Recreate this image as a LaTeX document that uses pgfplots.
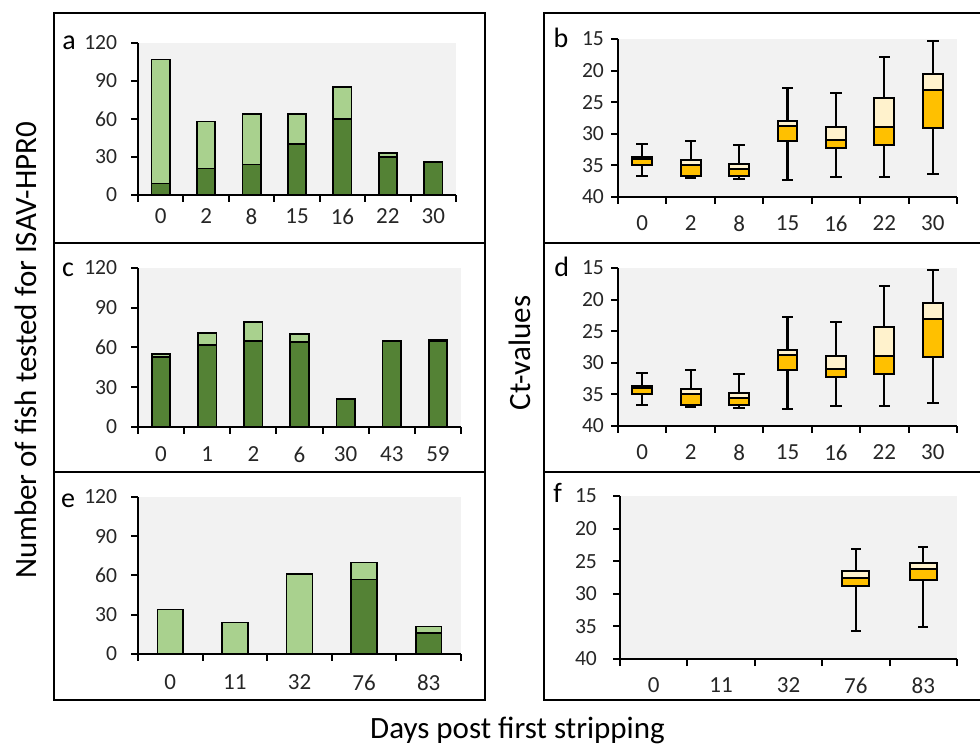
\documentclass[border=0pt]{standalone}
\usepackage{fontspec}
\setmainfont{Carlito}
\usepackage{pgfplots}
\usepackage{pgfplotstable}
\pgfplotsset{compat=1.18}

\definecolor{dkgreen}{HTML}{548235}
\definecolor{ltgreen}{HTML}{A9D18E}
\definecolor{cream}{HTML}{FFF2CC}
\definecolor{gold}{HTML}{FFC000}
\definecolor{bggray}{HTML}{F2F2F2}

% stacked bars: pos = dark part, neg = light part on top
\pgfplotstableread{
x pos neg
0 9 98
1 21 37
2 24 40
3 40 24
4 60 25
5 30 3
6 26 0
}\dataA
\pgfplotstableread{
x pos neg
0 53 2
1 62 9
2 65 14
3 64 6
4 21 0
5 65 0
6 65 1
}\dataC
\pgfplotstableread{
x pos neg
0 0 34
1 0 24
2 0 61
3 57 13
4 16 5
}\dataE

% box plots (Ct-values): whisker, quartile, median, quartile, whisker
\pgfplotstableread{
pos lw q1 md q3 uw
0 31.6 33.6 34.0 34.9 36.6
1 31.2 34.2 35.0 36.6 37.0
2 31.8 34.8 35.6 36.6 37.2
3 22.7 27.9 28.8 31.2 37.3
4 23.6 28.9 31.0 32.3 36.8
5 17.8 24.4 28.9 31.8 36.8
6 15.3 20.5 23.0 29.1 36.4
}\boxB
\pgfplotstableread{
pos lw q1 md q3 uw
3 23.1 26.5 27.6 28.8 35.7
4 22.8 25.2 26.2 27.9 35.1
}\boxF

% box plot built as a stack of bars: cream q1..median, gold median..q3
% (caps are bars of negligible height)
\newcommand{\boxes}[2]{% table, whisker cap width
  \addplot[draw=none, fill=none] table[x=pos, y=lw] {#1};
  \addplot[bar width=#2, fill=none] table[x=pos, y expr=0.001] {#1};
  \addplot[bar width=0.001, fill=none] table[x=pos, y expr=\thisrow{q1}-\thisrow{lw}] {#1};
  \addplot[fill=cream] table[x=pos, y expr=\thisrow{md}-\thisrow{q1}] {#1};
  \addplot[fill=gold] table[x=pos, y expr=\thisrow{q3}-\thisrow{md}] {#1};
  \addplot[bar width=0.001, fill=none] table[x=pos, y expr=\thisrow{uw}-\thisrow{q3}] {#1};
  \addplot[bar width=#2, fill=none] table[x=pos, y expr=0.001] {#1};
}

\pgfplotsset{
  panel/.style={
    scale only axis,
    enlargelimits=false,
    axis x line*=bottom,
    axis y line*=left,
    axis line style={-, line width=1pt},
    tick align=outside,
    tick style={black, line width=1pt},
    major tick length=3.5pt,
    x tick label as interval,
    axis background/.style={fill=bggray},
    /pgf/number format/assume math mode=true,
    yticklabel style={font=\fontsize{10.8}{12}\selectfont, text=black!85},
    xticklabel style={font=\fontsize{11.5}{13}\selectfont, text=black!85},
    anchor=south west,
  },
  barpanel/.style={
    panel,
    ybar stacked,
    bar width=0.4,
    ymin=0, ymax=120,
    ytick={0,30,...,120},
    yticklabel style={xshift=-3.4pt},
    every axis plot/.append style={draw=black, line width=0.85pt},
  },
  boxpanel/.style={
    panel,
    ybar stacked,
    bar width=0.41,
    y dir=reverse,
    ymin=15, ymax=40,
    ytick={15,20,...,40},
    xticklabel style={yshift=-2.5pt},
    every axis plot/.append style={draw=black, line width=1pt},
  },
}

\begin{document}
\begin{tikzpicture}
\useasboundingbox (0,0) rectangle (490pt,372pt);

% panel frames
\draw[line width=1pt] (27pt,365.5pt) rectangle (242.5pt,22pt);
\draw[line width=1pt] (27pt,250.5pt) -- (242.5pt,250.5pt);
\draw[line width=1pt] (27pt,136pt) -- (242.5pt,136pt);
\draw[line width=1pt] (272pt,365.5pt) rectangle (495pt,22pt);
\draw[line width=1pt] (272pt,250.5pt) -- (495pt,250.5pt);
\draw[line width=1pt] (272pt,136pt) -- (495pt,136pt);

% a
\begin{axis}[barpanel, at={(69pt,274.5pt)}, width=159pt, height=76pt,
  xmin=-0.5, xmax=6.5, xtick={-0.5,0.5,...,6.5},
  xticklabels={0,2,8,15,16,22,30}]
\addplot[fill=dkgreen] table[x=x, y=pos] {\dataA};
\addplot[fill=ltgreen] table[x=x, y=neg] {\dataA};
\end{axis}

% c
\begin{axis}[barpanel, at={(69pt,158.5pt)}, width=161.5pt, height=79.5pt,
  xmin=-0.5, xmax=6.5, xtick={-0.5,0.5,...,6.5},
  xticklabels={0,1,2,6,30,43,59}, xticklabel style={yshift=-3pt}]
\addplot[fill=dkgreen] table[x=x, y=pos] {\dataC};
\addplot[fill=ltgreen] table[x=x, y=neg] {\dataC};
\end{axis}

% e
\begin{axis}[barpanel, at={(69pt,45pt)}, width=161.5pt, height=78.5pt,
  xmin=-0.5, xmax=4.5, xtick={-0.5,0.5,...,4.5},
  xticklabels={0,11,32,76,83}, xticklabel style={yshift=-3.5pt}]
\addplot[fill=dkgreen] table[x=x, y=pos] {\dataE};
\addplot[fill=ltgreen] table[x=x, y=neg] {\dataE};
\end{axis}

% b
\begin{axis}[boxpanel, at={(309pt,273.5pt)}, width=169.5pt, height=79pt,
  xmin=-0.5, xmax=6.5, xtick={-0.5,0.5,...,6.5},
  xticklabels={0,2,8,15,16,22,30}]
\boxes{\boxB}{0.2}
\end{axis}

% d
\begin{axis}[boxpanel, at={(309pt,159pt)}, width=169.5pt, height=79pt,
  xmin=-0.5, xmax=6.5, xtick={-0.5,0.5,...,6.5},
  xticklabels={0,2,8,15,16,22,30}]
\boxes{\boxB}{0.2}
\end{axis}

% f
\begin{axis}[boxpanel, at={(310pt,42.5pt)}, width=168.5pt, height=81.5pt,
  bar width=0.4,
  xmin=-0.5, xmax=4.5, xtick={-0.5,0.5,...,4.5},
  xticklabels={0,11,32,76,83}, yticklabel style={xshift=-4.5pt}]
\boxes{\boxF}{0.12}
\end{axis}

% panel letters
\begin{scope}[every node/.style={font=\fontsize{14}{16}\selectfont, anchor=base, inner sep=0pt}]
\node at (34.5pt,347pt) {a};
\node at (280.5pt,348pt) {b};
\node at (34pt,233.5pt) {c};
\node at (280.8pt,233.5pt) {d};
\node at (34pt,118pt) {e};
\node at (278.8pt,120.5pt) {f};
\end{scope}

% axis titles
\node[rotate=90, font=\fontsize{15.5}{18}\selectfont, inner sep=0pt] at (12.7pt,197pt) {Number of fish tested for ISAV-HPR0};
\node[rotate=90, font=\fontsize{15.5}{18}\selectfont, inner sep=0pt] at (260pt,195.5pt) {Ct-values};
\node[font=\fontsize{15.5}{18}\selectfont, anchor=base, inner sep=0pt] at (258.75pt,2.5pt) {Days post first stripping};
\end{tikzpicture}
\end{document}
